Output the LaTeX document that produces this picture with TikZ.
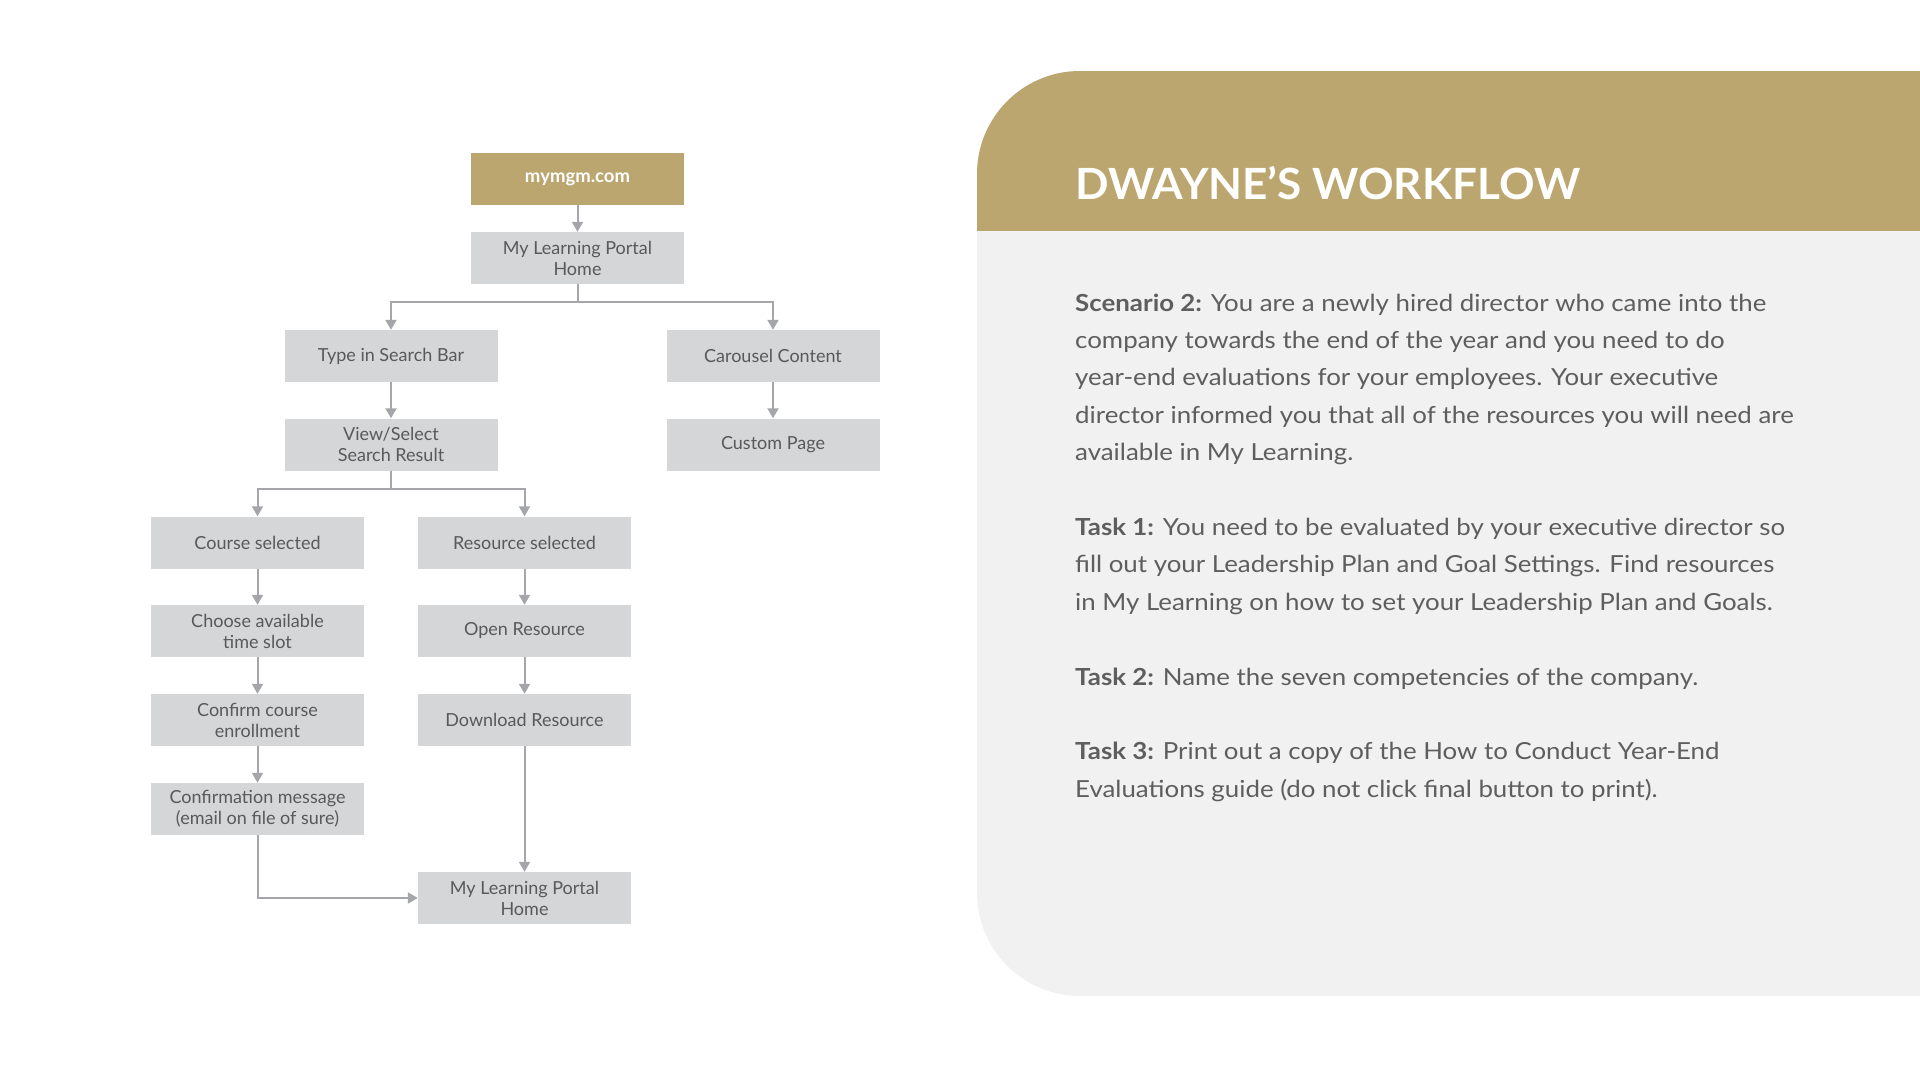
\documentclass[tikz,border=0pt]{standalone}
\usepackage{fontspec}
\setmainfont{Lato}
\usepackage{xcolor}
\usetikzlibrary{arrows.meta}
\definecolor{gold}{HTML}{BCA66F}
\definecolor{panelgray}{HTML}{F1F1F1}
\definecolor{boxgray}{HTML}{D5D6D8}
\definecolor{linegray}{HTML}{A5A6A9}
\definecolor{boxtext}{HTML}{58595B}
\definecolor{bodytext}{HTML}{5E5E5E}

\begin{document}
\begin{tikzpicture}[x=1pt, y=-1pt, >={Triangle[width=11pt, length=10pt]},
    box/.style={fill=boxgray, minimum width=213pt, minimum height=52pt, inner sep=0pt,
        align=center, text=boxtext, font=\fontsize{18}{21}\selectfont},
    flow/.style={->, draw=linegray, line width=2pt}]
    \useasboundingbox (0,0) rectangle (1920,1068);

    % panel on the right
    \begin{scope}
        \clip[rounded corners=103pt] (977,71) rectangle (2100,996);
        \fill[panelgray] (977,71) rectangle (1920,996);
        \fill[gold] (977,71) rectangle (1920,231);
    \end{scope}

    \node[anchor=base west, text=white,
        font=\fontsize{43}{43}\selectfont\bfseries\addfontfeature{FakeStretch=1.025}] (title) at (1072,199) {DWAYNE’S WORKFLOW};
    \node[anchor=north west, inner sep=0pt, align=left, text=bodytext,
        font=\fontsize{23.5}{37.4}\selectfont\addfontfeature{FakeStretch=1.1}] (brief) at (1075,293.5)
        {\textbf{Scenario 2:} You are a newly hired director who came into the\\
        company towards the end of the year and you need to do\\
        year-end evaluations for your employees. Your executive\\
        director informed you that all of the resources you will need are\\
        available in My Learning.\\[37.4pt]
        \textbf{Task 1:} You need to be evaluated by your executive director so\\
        fill out your Leadership Plan and Goal Settings. Find resources\\
        in My Learning on how to set your Leadership Plan and Goals.\\[37.4pt]
        \textbf{Task 2:} Name the seven competencies of the company.\\[37.4pt]
        \textbf{Task 3:} Print out a copy of the How to Conduct Year-End\\
        Evaluations guide (do not click final button to print).};

    % flow chart
    \node[box, fill=gold, text=white, font=\fontsize{18.5}{21}\selectfont\bfseries] (mymgm) at (577.5,179) {mymgm.com};
    \node[box] (home) at (577.5,258) {My Learning Portal\\Home};
    \node[box] (search) at (391,356) {Type in Search Bar};
    \node[box] (carousel) at (773,356) {Carousel Content};
    \node[box] (result) at (391,444.5) {View/Select\\Search Result};
    \node[box] (custom) at (773,444.5) {Custom Page};
    \node[box] (course) at (257.5,542.5) {Course selected};
    \node[box] (resource) at (524.5,542.5) {Resource selected};
    \node[box] (slot) at (257.5,631) {Choose available\\time slot};
    \node[box] (open) at (524.5,631) {Open Resource};
    \node[box] (enroll) at (257.5,720) {Confirm course\\enrollment};
    \node[box] (download) at (524.5,720) {Download Resource};
    \node[box] (confirm) at (257.5,809) {Confirmation message\\(email on file of sure)};
    \node[box] (homeend) at (524.5,898) {My Learning Portal\\Home};

    \draw[flow] (mymgm) -- (home);
    \draw[flow] (home.south) -- ++(0,18) -| (search.north);
    \draw[flow] (home.south) -- ++(0,18) -| (carousel.north);
    \draw[flow] (search) -- (result);
    \draw[flow] (carousel) -- (custom);
    \draw[flow] (result.south) -- ++(0,18) -| (course.north);
    \draw[flow] (result.south) -- ++(0,18) -| (resource.north);
    \draw[flow] (course) -- (slot);
    \draw[flow] (slot) -- (enroll);
    \draw[flow] (enroll) -- (confirm);
    \draw[flow] (resource) -- (open);
    \draw[flow] (open) -- (download);
    \draw[flow] (download) -- (homeend);
    \draw[flow] (confirm.south) |- (homeend.west);
\end{tikzpicture}
\end{document}
